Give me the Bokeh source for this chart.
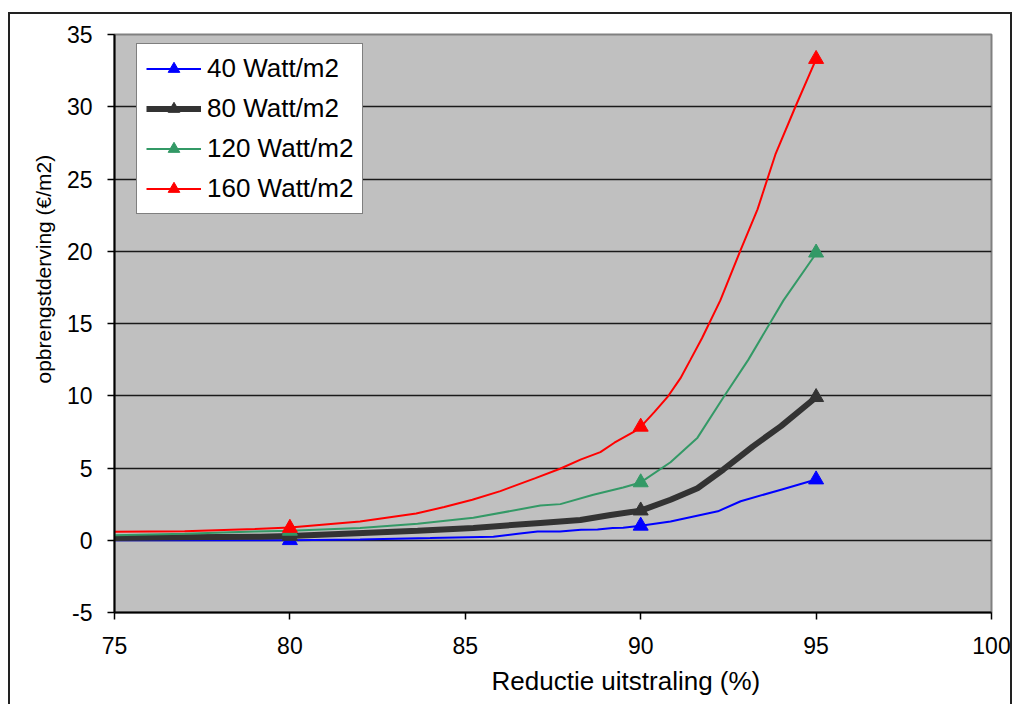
from bokeh.plotting import figure
from bokeh.models import (Range1d, FixedTicker, Title, Legend, LegendItem,
                          InlineStyleSheet)
from bokeh.embed import file_html
from bokeh.resources import INLINE

# Opbrengstderving (euro/m2) as a function of the reduction in radiation (%)
x_40 = [75, 80, 82, 84, 85.8, 86.5, 87.06, 87.7, 88.3, 88.77, 89.2, 89.5, 90,
        90.85, 92.2, 92.85, 94.0, 95]
y_40 = [0.0, 0.0, 0.05, 0.15, 0.25, 0.45, 0.6, 0.6, 0.73, 0.75, 0.85, 0.87, 1.0,
        1.3, 2.0, 2.7, 3.5, 4.2]

x_80 = [75, 77, 79.16, 80, 83.64, 85.23, 87.14, 88.28, 89.14, 90, 90.85, 91.62,
        92.36, 93.2, 94.0, 95]
y_80 = [0.15, 0.2, 0.25, 0.3, 0.65, 0.85, 1.2, 1.4, 1.75, 2.05, 2.8, 3.6,
        4.9, 6.5, 7.9, 9.9]

x_120 = [75, 77, 79, 80, 82, 83.64, 85.23, 87.14, 87.71, 88.65, 89.5, 90,
         90.85, 91.62, 92.36, 93.07, 94.07, 94.93, 95]
y_120 = [0.35, 0.45, 0.6, 0.65, 0.85, 1.14, 1.55, 2.4, 2.5, 3.15, 3.65, 4.0,
         5.4, 7.1, 9.9, 12.5, 16.6, 19.6, 19.9]

x_160 = [75, 77, 79, 80, 82, 83.6, 84.4, 85.2, 86.0, 87.0, 87.7, 88.3, 88.85,
         89.25, 89.8, 90, 90.4, 90.76, 91.13, 91.42, 91.75, 92.27, 92.85,
         93.33, 93.84, 94.41, 95]
y_160 = [0.58, 0.62, 0.78, 0.88, 1.3, 1.85, 2.3, 2.8, 3.4, 4.3, 4.95, 5.6, 6.1,
         6.75, 7.5, 7.85, 8.9, 9.9, 11.2, 12.5, 14.0, 16.6, 20.1,
         22.9, 26.7, 30.0, 33.3]

# Marked points
x_marks = [80, 90, 95]
m_40 = [0.0, 1.0, 4.2]
m_80 = [0.3, 2.05, 9.9]
m_120 = [0.65, 4.0, 19.9]
m_160 = [0.85, 7.85, 33.3]

labels = ["40 Watt/m2", "80 Watt/m2", "120 Watt/m2", "160 Watt/m2"]
x_ticks = [75, 80, 85, 90, 95, 100]
y_ticks = [-5, 0, 5, 10, 15, 20, 25, 30, 35]
x_title = "Reductie uitstraling (%)"
y_title = "opbrengstderving (€/m2)"

FONT = "Liberation Sans"

# Thin frame around the whole chart area (left, top and right edges)
frame_css = InlineStyleSheet(css="""
:host { position: relative; }
:host::after {
  content: ""; position: absolute; left: 8px; top: 12px;
  width: 1004px; height: 692px; box-sizing: border-box;
  border: 2px solid #222; border-bottom: none;
  pointer-events: none; z-index: 10;
}
""")

p = figure(width=1014, height=704, output_backend="svg", toolbar_location=None,
           x_range=Range1d(75, 100), y_range=Range1d(-5, 35),
           min_border_left=114, min_border_right=23,
           min_border_top=34, min_border_bottom=92,
           background_fill_color="#C0C0C0", border_fill_color="white",
           stylesheets=[frame_css])

p.outline_line_color = "#808080"
p.outline_line_width = 2

p.xgrid.visible = False
p.ygrid.ticker = FixedTicker(ticks=[t for t in y_ticks if t < 35])
p.ygrid.grid_line_color = "#1a1a1a"
p.ygrid.grid_line_width = 1.5

p.xaxis.ticker = FixedTicker(ticks=x_ticks)
p.yaxis.ticker = FixedTicker(ticks=y_ticks)
p.yaxis.major_label_overrides = {t: str(t) for t in y_ticks}
for ax in (p.xaxis[0], p.yaxis[0]):
    ax.major_tick_out = 7
    ax.major_tick_in = 0
    ax.minor_tick_out = 0
    ax.minor_tick_in = 0
    ax.axis_line_color = "black"
    ax.axis_line_width = 2
    ax.major_tick_line_color = "black"
    ax.major_tick_line_width = 1.5
    ax.major_label_text_font = FONT
    ax.major_label_text_font_size = "23px"
    ax.major_label_text_color = "black"
p.xaxis.major_label_standoff = 17
p.yaxis.major_label_standoff = 15

series = [
    (x_40, y_40, m_40, "#0000FF", 2),
    (x_80, y_80, m_80, "#333333", 6),
    (x_120, y_120, m_120, "#339966", 2),
    (x_160, y_160, m_160, "#FF0000", 2),
]

items = []
for (xs, ys, ms, color, lw), lab in zip(series, labels):
    ln = p.line(xs, ys, line_color=color, line_width=lw)
    sc = p.scatter(x_marks, ms, marker="triangle", size=15,
                   fill_color=color, line_color=color)
    items.append(LegendItem(label=lab, renderers=[ln, sc]))

legend = Legend(items=items, location=(22, 398), margin=0, padding=9,
                spacing=9, glyph_width=55, glyph_height=29, label_height=29,
                label_width=146, label_standoff=6,
                label_text_font=FONT, label_text_font_size="26px",
                label_text_color="black",
                border_line_color="black", border_line_width=1.5,
                background_fill_color="white", background_fill_alpha=1.0)
p.add_layout(legend)

p.add_layout(Title(text=x_title, align="left", offset=377,
                   text_font=FONT, text_font_size="26px",
                   text_font_style="normal", text_color="black",
                   standoff=15), "below")
p.add_layout(Title(text=y_title, align="left", offset=229,
                   text_font=FONT, text_font_size="21px",
                   text_font_style="normal", text_color="black",
                   standoff=17), "left")

open("out.html", "w").write(file_html(p, INLINE))
